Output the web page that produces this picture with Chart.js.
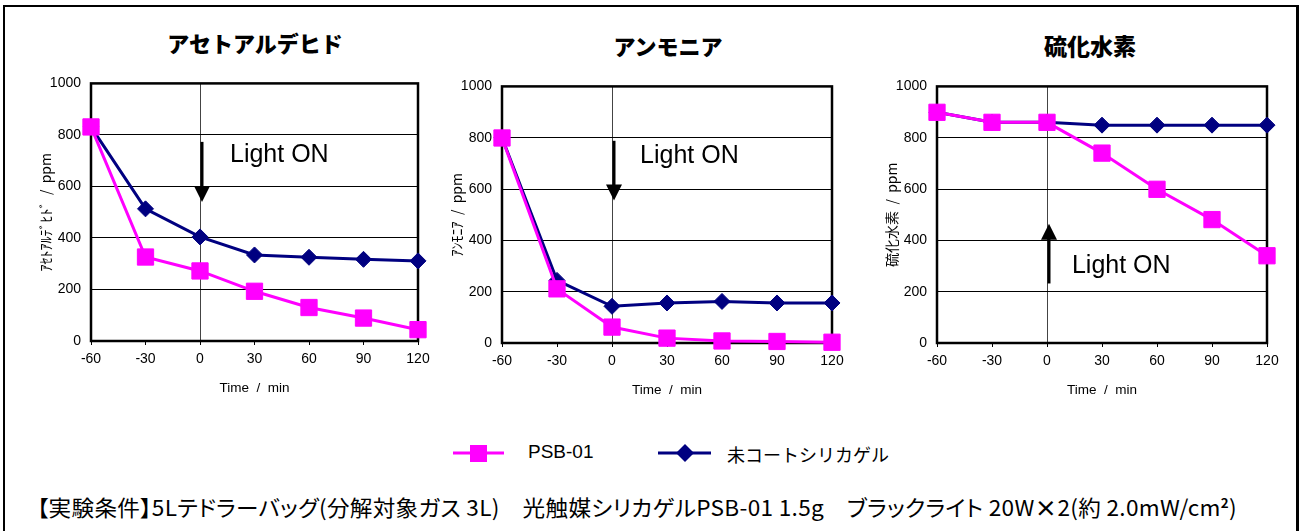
<!DOCTYPE html>
<html>
<head>
<meta charset="utf-8">
<script src="https://cdn.jsdelivr.net/npm/chart.js@4.4.1/dist/chart.umd.min.js"></script>
<style>
  html, body { margin:0; padding:0; background:#fff; }
  #page { position:relative; width:1302px; height:531px; overflow:hidden; background:#fff; font-family:"Liberation Sans", Arial, sans-serif; }
  #frame { position:absolute; left:3px; top:5px; width:1296px; height:540px; border:2px solid #000; box-sizing:border-box; border-right-width:3px; }
  .title { position:absolute; font-family:"Noto Sans CJK JP", sans-serif; font-weight:900; font-size:22px; color:#000; transform:translate(-50%,-50%); white-space:nowrap; }
  canvas { position:absolute; }
  .leg { position:absolute; top:441px; font-size:19px; color:#000; white-space:nowrap; }
  #cond { position:absolute; left:37px; top:487px; font-family:"Noto Sans CJK JP", sans-serif; font-size:22px; line-height:32px; color:#000; white-space:nowrap; transform-origin:0 0; font-feature-settings:"palt"; letter-spacing:0.3px; }
</style>
</head>
<body>
<div id="page">
  <div id="frame"></div>
  <div class="title" style="left:255px;top:42px">アセトアルデヒド</div>
  <div class="title" style="left:668px;top:45px">アンモニア</div>
  <div class="title" style="left:1090px;top:45px;font-size:23px">硫化水素</div>
  <canvas id="c1" style="left:16px;top:65px" width="427" height="336"></canvas>
  <canvas id="c2" style="left:427px;top:68px" width="430" height="335"></canvas>
  <canvas id="c3" style="left:862px;top:68px" width="430" height="335"></canvas>
  <svg style="position:absolute;left:450px;top:441px" width="60" height="24">
    <line x1="3" y1="12" x2="54" y2="12" stroke="#ff00ff" stroke-width="3"/>
    <rect x="20" y="4" width="17" height="17" fill="#ff00ff"/>
  </svg>
  <div class="leg" style="left:528px">PSB-01</div>
  <svg style="position:absolute;left:655px;top:441px" width="60" height="24">
    <line x1="3" y1="12" x2="56" y2="12" stroke="#000080" stroke-width="3"/>
    <polygon points="30,3 39,12 30,21 21,12" fill="#000080"/>
  </svg>
  <div class="leg" style="left:727px;font-family:'Noto Sans CJK JP',sans-serif;font-size:18px">未コートシリカゲル</div>
  <div id="cond">【実験条件】5Lテドラーバッグ(分解対象ガス 3L)　光触媒シリカゲルPSB-01 1.5g　ブラックライト 20W<b>×</b>2(約 2.0mW/cm<sup style="font-size:13px;font-weight:bold">2</sup>)</div>
</div>
<script>
// x values (min)
const times = [-60, -30, 0, 30, 60, 90, 120];
const yTicks = [0, 200, 400, 600, 800, 1000];

// acetaldehyde, ppm
const acetPSB = [831, 326, 272, 193, 130, 89, 44];
const acetBare = [831, 513, 404, 334, 325, 317, 311];
// ammonia, ppm
const ammPSB = [799, 211, 62, 19, 8, 6, 3];
const ammBare = [800, 244, 143, 156, 162, 156, 156];
// hydrogen sulfide, ppm
const h2sPSB = [899, 860, 860, 740, 599, 481, 340];
const h2sBare = [899, 860, 860, 849, 849, 849, 849];

const PINK = '#ff00ff';
const NAVY = '#000080';

// frame + "Light ON" arrow
const decor = {
  id: 'decor',
  beforeDatasetsDraw(chart) {
    const {ctx, chartArea: a} = chart;
    ctx.save();
    ctx.strokeStyle = '#000';
    ctx.lineWidth = 2.5;
    ctx.strokeRect(a.left, a.top, a.right - a.left, a.bottom - a.top);
    ctx.restore();
  },
  afterDatasetsDraw(chart, args, opts) {
    const {ctx, scales: {x, y}} = chart;
    const ax = x.getPixelForValue(0) + 2;
    const y1 = y.getPixelForValue(opts.from);
    const y2 = y.getPixelForValue(opts.to);
    const dir = y2 > y1 ? 1 : -1;
    ctx.save();
    ctx.strokeStyle = '#000';
    ctx.fillStyle = '#000';
    ctx.lineWidth = 3;
    ctx.beginPath();
    ctx.moveTo(ax, y1);
    ctx.lineTo(ax, y2 - dir * 12);
    ctx.stroke();
    ctx.beginPath();
    ctx.moveTo(ax, y2);
    ctx.lineTo(ax - 8, y2 - dir * 16);
    ctx.lineTo(ax + 8, y2 - dir * 16);
    ctx.closePath();
    ctx.fill();
    ctx.font = '25px "Liberation Sans", Arial, sans-serif';
    ctx.textBaseline = 'middle';
    ctx.fillText('Light ON', x.getPixelForValue(opts.tx), y.getPixelForValue(opts.ty));
    ctx.restore();
  }
};

function makeChart(id, psb, bare, yLabel, arrow) {
  return new Chart(document.getElementById(id), {
    type: 'line',
    data: {
      labels: times,
      datasets: [
        { label: 'PSB-01', data: psb.map((v, i) => ({x: times[i], y: v})),
          borderColor: PINK, backgroundColor: PINK, borderWidth: 3,
          pointStyle: 'rect', pointRadius: 11.5, pointBorderWidth: 1, clip: false },
        { label: '未コートシリカゲル', data: bare.map((v, i) => ({x: times[i], y: v})),
          borderColor: NAVY, backgroundColor: NAVY, borderWidth: 3,
          pointStyle: 'rectRot', pointRadius: 8, pointBorderWidth: 1, clip: false }
      ]
    },
    options: {
      responsive: false,
      animation: false,
      layout: { padding: { left: 0, top: 0, right: 25, bottom: 0 } },
      plugins: { legend: { display: false }, tooltip: { enabled: false }, decor: arrow },
      scales: {
        x: {
          type: 'linear', min: -60, max: 120,
          afterBuildTicks: (s) => { s.ticks = times.map(v => ({value: v})); },
          afterFit: (s) => { s.height = 60; },
          border: { display: false },
          grid: { color: (c) => c.tick && c.tick.value === 0 ? '#444' : 'rgba(0,0,0,0)',
                  lineWidth: 1, drawTicks: true, tickLength: 4, tickColor: '#000' },
          ticks: { color: '#000', padding: 6, maxRotation: 0, callback: (v) => String(v),
                   font: { family: '"Liberation Sans", Arial, sans-serif', size: 14 } },
          title: { display: true, text: 'Time  /  min', color: '#000', padding: { top: 0, bottom: 5 },
                   font: { family: '"Liberation Sans", Arial, sans-serif', size: 13.5 } }
        },
        y: {
          min: 0, max: 1000,
          afterBuildTicks: (s) => { s.ticks = yTicks.map(v => ({value: v})); },
          afterFit: (s) => { s.width = 75; },
          border: { display: false },
          grid: { color: '#000', lineWidth: 1, drawTicks: false },
          ticks: { color: '#000', padding: 10, callback: (v) => String(v),
                   font: { family: '"Liberation Sans", Arial, sans-serif', size: 14 } },
          title: { display: true, text: yLabel, color: '#000', padding: { top: 21, bottom: 0 },
                   font: { family: '"Noto Sans CJK JP", sans-serif', size: 14 } }
        }
      }
    },
    plugins: [decor]
  });
}

makeChart('c1', acetPSB, acetBare, 'ｱｾﾄｱﾙﾃﾞﾋﾄﾞ  /  ppm', { from: 773, to: 540, tx: 16.5, ty: 721 });
makeChart('c2', ammPSB, ammBare, 'ｱﾝﾓﾆｱ  /  ppm', { from: 788, to: 555, tx: 15.3, ty: 730 });
makeChart('c3', h2sPSB, h2sBare, '硫化水素  /  ppm', { from: 232, to: 465, tx: 13.6, ty: 300 });

// fit the condition line to the reference width
const cond = document.getElementById('cond');
const w = cond.getBoundingClientRect().width;
cond.style.transform = 'scaleX(' + (1200 / w) + ')';
</script>
</body>
</html>
